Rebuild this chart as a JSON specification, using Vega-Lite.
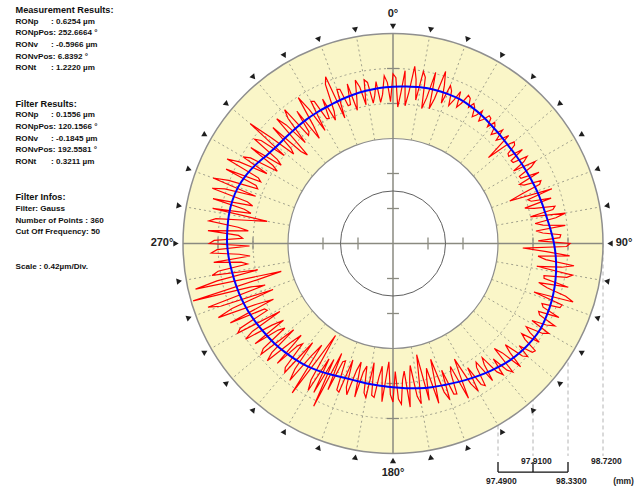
{
  "$schema": "https://vega.github.io/schema/vega-lite/v6.json",
  "width": 640,
  "height": 488,
  "autosize": {"type": "none"},
  "padding": 0,
  "background": "white",
  "config": {"view": {"stroke": null}, "axis": {"disable": true}, "text": {"font": "Liberation Sans"}},
  "datasets": {
    "rings": [{"r": 6, "k": "outer"}, {"r": 3, "k": "inner"}, {"r": 5, "k": "grid"}, {"r": 4, "k": "grid"}, {"r": 1.5, "k": "small"}],
    "deg": [{"a":0},{"a":10},{"a":20},{"a":30},{"a":40},{"a":50},{"a":60},{"a":70},{"a":80},{"a":90},{"a":100},{"a":110},{"a":120},{"a":130},{"a":140},{"a":150},{"a":160},{"a":170},{"a":180},{"a":190},{"a":200},{"a":210},{"a":220},{"a":230},{"a":240},{"a":250},{"a":260},{"a":270},{"a":280},{"a":290},{"a":300},{"a":310},{"a":320},{"a":330},{"a":340},{"a":350}],
    "ticks": [{"d":-5},{"d":-4},{"d":-2},{"d":-1},{"d":1},{"d":2},{"d":4},{"d":5}],
    "anglelabels": [{"a":0,"t":"0°"},{"a":90,"t":"90°"},{"a":180,"t":"180°"},{"a":270,"t":"270°"}],
    "scalebar": [{"r":3,"label":"97.4900","row":1},{"r":4,"label":"97.9100","row":0},{"r":5,"label":"98.3300","row":1},{"r":6,"label":"98.7200","row":0}],
    "info": [
      {"line":0,"kind":"h","t":"Measurement Results:"},
      {"line":1,"kind":"b","t":"RONp","v":": 0.6254 µm"},
      {"line":2,"kind":"b","t":"RONpPos: 252.6664 °"},
      {"line":3,"kind":"b","t":"RONv","v":": -0.5966 µm"},
      {"line":4,"kind":"b","t":"RONvPos: 6.8392 °"},
      {"line":5,"kind":"b","t":"RONt","v":": 1.2220 µm"},
      {"line":8,"kind":"h","t":"Filter Results:"},
      {"line":9,"kind":"b","t":"RONp","v":": 0.1556 µm"},
      {"line":10,"kind":"b","t":"RONpPos: 120.1566 °"},
      {"line":11,"kind":"b","t":"RONv","v":": -0.1845 µm"},
      {"line":12,"kind":"b","t":"RONvPos: 192.5581 °"},
      {"line":13,"kind":"b","t":"RONt","v":": 0.3211 µm"},
      {"line":16,"kind":"h","t":"Filter Infos:"},
      {"line":17,"kind":"b","t":"Filter: Gauss"},
      {"line":18,"kind":"b","t":"Number of Points   : 360"},
      {"line":19,"kind":"b","t":"Cut Off Frequency: 50"},
      {"line":22,"kind":"b","t":"Scale : 0.42µm/Div."}
    ],
    "filtered": [{"a":0,"r":4.48},{"a":5,"r":4.50},{"a":10,"r":4.53},{"a":15,"r":4.55},{"a":20,"r":4.55},{"a":25,"r":4.54},{"a":30,"r":4.50},{"a":35,"r":4.45},{"a":40,"r":4.39},{"a":45,"r":4.35},{"a":50,"r":4.32},{"a":55,"r":4.32},{"a":60,"r":4.33},{"a":65,"r":4.35},{"a":70,"r":4.38},{"a":75,"r":4.41},{"a":80,"r":4.45},{"a":85,"r":4.52},{"a":90,"r":4.60},{"a":95,"r":4.67},{"a":100,"r":4.73},{"a":105,"r":4.78},{"a":110,"r":4.82},{"a":115,"r":4.85},{"a":120,"r":4.87},{"a":125,"r":4.84},{"a":130,"r":4.79},{"a":135,"r":4.72},{"a":140,"r":4.63},{"a":145,"r":4.54},{"a":150,"r":4.45},{"a":155,"r":4.37},{"a":160,"r":4.30},{"a":165,"r":4.25},{"a":170,"r":4.20},{"a":175,"r":4.15},{"a":180,"r":4.11},{"a":185,"r":4.08},{"a":190,"r":4.07},{"a":195,"r":4.06},{"a":200,"r":4.08},{"a":205,"r":4.14},{"a":210,"r":4.21},{"a":215,"r":4.28},{"a":220,"r":4.33},{"a":225,"r":4.38},{"a":230,"r":4.43},{"a":235,"r":4.47},{"a":240,"r":4.52},{"a":245,"r":4.57},{"a":250,"r":4.61},{"a":255,"r":4.64},{"a":260,"r":4.67},{"a":265,"r":4.71},{"a":270,"r":4.74},{"a":275,"r":4.75},{"a":280,"r":4.76},{"a":285,"r":4.75},{"a":290,"r":4.71},{"a":295,"r":4.63},{"a":300,"r":4.52},{"a":305,"r":4.40},{"a":310,"r":4.33},{"a":315,"r":4.31},{"a":320,"r":4.31},{"a":325,"r":4.32},{"a":330,"r":4.33},{"a":335,"r":4.34},{"a":340,"r":4.37},{"a":345,"r":4.40},{"a":350,"r":4.43},{"a":355,"r":4.46}],
    "raw": [
{"a":0,"r":4.85},{"a":1,"r":4.74},{"a":2,"r":3.90},{"a":3,"r":4.32},{"a":4,"r":4.95},{"a":5,"r":3.95},{"a":6,"r":4.35},{"a":7,"r":5.10},{"a":8,"r":4.74},{"a":9,"r":4.15},
{"a":10,"r":4.99},{"a":11,"r":4.84},{"a":12,"r":3.94},{"a":13,"r":4.27},{"a":14,"r":5.04},{"a":15,"r":3.99},{"a":16,"r":4.30},{"a":17,"r":5.14},{"a":18,"r":4.75},{"a":19,"r":4.24},
{"a":20,"r":4.80},{"a":21,"r":4.67},{"a":22,"r":4.25},{"a":23,"r":4.46},{"a":24,"r":4.75},{"a":25,"r":4.30},{"a":26,"r":4.46},{"a":27,"r":4.75},{"a":28,"r":4.70},{"a":29,"r":4.45},
{"a":30,"r":4.62},{"a":31,"r":4.53},{"a":32,"r":4.27},{"a":33,"r":4.38},{"a":34,"r":4.57},{"a":35,"r":4.27},{"a":36,"r":4.38},{"a":37,"r":4.57},{"a":38,"r":4.54},{"a":39,"r":4.29},
{"a":40,"r":4.52},{"a":41,"r":4.44},{"a":42,"r":4.19},{"a":43,"r":4.31},{"a":44,"r":4.51},{"a":45,"r":4.17},{"a":46,"r":4.31},{"a":47,"r":4.52},{"a":48,"r":3.67},{"a":49,"r":4.27},
{"a":50,"r":4.52},{"a":51,"r":4.47},{"a":52,"r":4.17},{"a":53,"r":4.14},{"a":54,"r":4.57},{"a":55,"r":4.12},{"a":56,"r":4.14},{"a":57,"r":4.57},{"a":58,"r":4.41},{"a":59,"r":4.02},
{"a":60,"r":4.69},{"a":61,"r":4.52},{"a":62,"r":4.09},{"a":63,"r":4.10},{"a":64,"r":4.64},{"a":65,"r":3.99},{"a":66,"r":4.10},{"a":67,"r":4.59},{"a":68,"r":4.52},{"a":69,"r":3.94},
{"a":70,"r":3.55},{"a":71,"r":4.80},{"a":72,"r":4.05},{"a":73,"r":4.13},{"a":74,"r":4.70},{"a":75,"r":3.90},{"a":76,"r":4.16},{"a":77,"r":4.75},{"a":78,"r":4.67},{"a":79,"r":4.00},
{"a":80,"r":5.00},{"a":81,"r":4.71},{"a":82,"r":4.10},{"a":83,"r":4.32},{"a":84,"r":4.95},{"a":85,"r":4.10},{"a":86,"r":4.29},{"a":87,"r":4.80},{"a":88,"r":4.77},{"a":89,"r":4.15},
{"a":90,"r":5.06},{"a":91,"r":4.96},{"a":92,"r":3.71},{"a":93,"r":4.39},{"a":94,"r":5.06},{"a":95,"r":4.16},{"a":96,"r":4.39},{"a":97,"r":5.21},{"a":98,"r":4.87},{"a":99,"r":4.16},
{"a":100,"r":5.21},{"a":101,"r":5.06},{"a":102,"r":4.41},{"a":103,"r":4.43},{"a":104,"r":5.16},{"a":105,"r":4.31},{"a":106,"r":4.58},{"a":107,"r":5.16},{"a":108,"r":5.41},{"a":109,"r":4.26},
{"a":110,"r":5.14},{"a":111,"r":5.11},{"a":112,"r":4.59},{"a":113,"r":4.66},{"a":114,"r":5.19},{"a":115,"r":4.59},{"a":116,"r":4.66},{"a":117,"r":5.19},{"a":118,"r":4.96},{"a":119,"r":4.54},
{"a":120,"r":5.14},{"a":121,"r":4.99},{"a":122,"r":4.49},{"a":123,"r":4.66},{"a":124,"r":5.04},{"a":125,"r":4.49},{"a":126,"r":4.66},{"a":127,"r":5.09},{"a":128,"r":5.05},{"a":129,"r":4.64},
{"a":130,"r":5.02},{"a":131,"r":4.90},{"a":132,"r":4.32},{"a":133,"r":4.57},{"a":134,"r":5.07},{"a":135,"r":4.42},{"a":136,"r":4.17},{"a":137,"r":5.02},{"a":138,"r":4.87},{"a":139,"r":4.37},
{"a":140,"r":4.89},{"a":141,"r":4.72},{"a":142,"r":4.14},{"a":143,"r":4.33},{"a":144,"r":4.84},{"a":145,"r":4.14},{"a":146,"r":4.27},{"a":147,"r":4.84},{"a":148,"r":4.75},{"a":149,"r":4.14},
{"a":150,"r":4.87},{"a":151,"r":4.58},{"a":152,"r":3.74},{"a":153,"r":4.19},{"a":154,"r":4.92},{"a":155,"r":3.88},{"a":156,"r":4.07},{"a":157,"r":4.67},{"a":158,"r":4.64},{"a":159,"r":3.88},
{"a":160,"r":4.75},{"a":161,"r":4.49},{"a":162,"r":3.48},{"a":163,"r":4.04},{"a":164,"r":4.75},{"a":165,"r":3.69},{"a":166,"r":3.98},{"a":167,"r":4.60},{"a":168,"r":3.25},{"a":169,"r":3.85},
{"a":170,"r":4.65},{"a":171,"r":4.42},{"a":172,"r":3.52},{"a":173,"r":3.91},{"a":174,"r":4.70},{"a":175,"r":3.66},{"a":176,"r":3.91},{"a":177,"r":4.60},{"a":178,"r":4.45},{"a":179,"r":3.66},
{"a":180,"r":4.53},{"a":181,"r":4.32},{"a":182,"r":3.38},{"a":183,"r":3.87},{"a":184,"r":4.53},{"a":185,"r":3.52},{"a":186,"r":3.84},{"a":187,"r":4.43},{"a":188,"r":4.38},{"a":189,"r":3.45},
{"a":190,"r":4.47},{"a":191,"r":4.34},{"a":192,"r":3.58},{"a":193,"r":3.77},{"a":194,"r":4.52},{"a":195,"r":3.51},{"a":196,"r":3.77},{"a":197,"r":4.52},{"a":198,"r":4.31},{"a":199,"r":3.52},
{"a":200,"r":4.52},{"a":201,"r":4.48},{"a":202,"r":3.62},{"a":203,"r":3.67},{"a":204,"r":4.57},{"a":205,"r":3.47},{"a":206,"r":5.17},{"a":207,"r":3.72},{"a":208,"r":4.82},{"a":209,"r":3.77},
{"a":210,"r":4.85},{"a":211,"r":4.55},{"a":212,"r":3.10},{"a":213,"r":3.95},{"a":214,"r":5.15},{"a":215,"r":3.55},{"a":216,"r":3.98},{"a":217,"r":4.90},{"a":218,"r":4.55},{"a":219,"r":3.65},
{"a":220,"r":4.81},{"a":221,"r":4.69},{"a":222,"r":3.86},{"a":223,"r":4.00},{"a":224,"r":4.76},{"a":225,"r":3.71},{"a":226,"r":4.09},{"a":227,"r":4.91},{"a":228,"r":4.66},{"a":229,"r":3.76},
{"a":230,"r":4.92},{"a":231,"r":4.77},{"a":232,"r":3.92},{"a":233,"r":4.11},{"a":234,"r":4.87},{"a":235,"r":3.82},{"a":236,"r":4.17},{"a":237,"r":5.02},{"a":238,"r":4.74},{"a":239,"r":3.77},
{"a":240,"r":5.12},{"a":241,"r":4.99},{"a":242,"r":4.07},{"a":243,"r":4.12},{"a":244,"r":5.17},{"a":245,"r":3.77},{"a":246,"r":4.27},{"a":247,"r":5.42},{"a":248,"r":4.96},{"a":249,"r":3.67},
{"a":250,"r":5.24},{"a":251,"r":5.59},{"a":252,"r":3.84},{"a":253,"r":4.24},{"a":254,"r":5.94},{"a":255,"r":4.04},{"a":256,"r":3.29},{"a":257,"r":5.79},{"a":258,"r":5.14},{"a":259,"r":3.94},
{"a":260,"r":5.25},{"a":261,"r":5.06},{"a":262,"r":4.20},{"a":263,"r":4.37},{"a":264,"r":5.15},{"a":265,"r":4.10},{"a":266,"r":4.40},{"a":267,"r":5.20},{"a":268,"r":5.03},{"a":269,"r":4.10},
{"a":270,"r":5.25},{"a":271,"r":5.11},{"a":272,"r":4.30},{"a":273,"r":4.42},{"a":274,"r":5.30},{"a":275,"r":4.15},{"a":276,"r":4.45},{"a":277,"r":5.30},{"a":278,"r":5.11},{"a":279,"r":4.25},
{"a":280,"r":3.65},{"a":281,"r":5.25},{"a":282,"r":4.15},{"a":283,"r":4.36},{"a":284,"r":5.30},{"a":285,"r":4.15},{"a":286,"r":4.33},{"a":287,"r":5.40},{"a":288,"r":5.05},{"a":289,"r":4.15},
{"a":290,"r":5.47},{"a":291,"r":5.03},{"a":292,"r":4.17},{"a":293,"r":4.25},{"a":294,"r":5.22},{"a":295,"r":4.17},{"a":296,"r":4.28},{"a":297,"r":5.32},{"a":298,"r":4.97},{"a":299,"r":4.12},
{"a":300,"r":4.95},{"a":301,"r":4.75},{"a":302,"r":3.90},{"a":303,"r":4.09},{"a":304,"r":4.90},{"a":305,"r":3.90},{"a":306,"r":4.09},{"a":307,"r":4.95},{"a":308,"r":4.78},{"a":309,"r":4.00},
{"a":310,"r":5.32},{"a":311,"r":4.62},{"a":312,"r":3.82},{"a":313,"r":3.99},{"a":314,"r":4.77},{"a":315,"r":3.72},{"a":316,"r":3.52},{"a":317,"r":4.87},{"a":318,"r":4.56},{"a":319,"r":3.82},
{"a":320,"r":4.67},{"a":321,"r":4.92},{"a":322,"r":3.92},{"a":323,"r":3.99},{"a":324,"r":4.67},{"a":325,"r":3.67},{"a":326,"r":4.08},{"a":327,"r":4.97},{"a":328,"r":4.50},{"a":329,"r":3.77},
{"a":330,"r":4.69},{"a":331,"r":4.64},{"a":332,"r":4.04},{"a":333,"r":4.01},{"a":334,"r":4.59},{"a":335,"r":3.89},{"a":336,"r":4.13},{"a":337,"r":4.94},{"a":338,"r":5.14},{"a":339,"r":3.84},
{"a":340,"r":4.69},{"a":341,"r":4.66},{"a":342,"r":4.14},{"a":343,"r":4.15},{"a":344,"r":4.74},{"a":345,"r":3.94},{"a":346,"r":4.27},{"a":347,"r":4.79},{"a":348,"r":4.57},{"a":349,"r":4.04},
{"a":350,"r":4.75},{"a":351,"r":4.66},{"a":352,"r":4.05},{"a":353,"r":4.27},{"a":354,"r":4.65},{"a":355,"r":4.05},{"a":356,"r":4.27},{"a":357,"r":4.80},{"a":358,"r":4.60},{"a":359,"r":4.05}
    ]
  },
  "layer": [
    {
      "layer": [
        {
          "data": {"name": "scalebar"},
          "mark": {"type": "rule", "stroke": "#b4b4b4", "strokeDash": [4, 3], "strokeWidth": 1},
          "encoding": {
            "x": {"field": "r", "type": "quantitative", "scale": {"domain": [-11.2286, 7.0571], "nice": false, "zero": false}},
            "y": {"datum": 0, "type": "quantitative", "scale": {"domain": [-6.9857, 6.9571], "nice": false, "zero": false}},
            "y2": {"datum": -6.07}
          }
        },
        {
          "data": {"name": "rings"},
          "transform": [{"filter": "datum.k == 'outer'"}],
          "mark": {"type": "arc", "theta": 0, "theta2": 6.2832, "fill": "#FAF6C8", "stroke": "#8f8f8f", "strokeWidth": 1.5},
          "encoding": {
            "x": {"datum": 0, "type": "quantitative"},
            "y": {"datum": 0, "type": "quantitative"},
            "radius": {"field": "r", "type": "quantitative", "stack": null, "scale": {"type": "linear", "domain": [0, 6], "range": [0, 210], "zero": true, "nice": false}}
          }
        },
        {
          "data": {"name": "rings"},
          "transform": [{"filter": "datum.k == 'inner'"}],
          "mark": {"type": "arc", "theta": 0, "theta2": 6.2832, "fill": "#ffffff", "stroke": "#8c8c8c", "strokeWidth": 1.2},
          "encoding": {
            "x": {"datum": 0, "type": "quantitative"},
            "y": {"datum": 0, "type": "quantitative"},
            "radius": {"field": "r", "type": "quantitative", "stack": null, "scale": {"type": "linear", "domain": [0, 6], "range": [0, 210], "zero": true, "nice": false}}
          }
        },
        {
          "data": {"name": "rings"},
          "transform": [{"filter": "datum.k == 'grid' && datum.r == 4"}],
          "mark": {"type": "arc", "theta": 0, "theta2": 6.2832, "filled": false, "stroke": "#a0a08c", "strokeWidth": 1, "strokeDash": [2, 3]},
          "encoding": {
            "x": {"datum": 0, "type": "quantitative"},
            "y": {"datum": 0, "type": "quantitative"},
            "radius": {"field": "r", "type": "quantitative", "stack": null, "scale": {"type": "linear", "domain": [0, 6], "range": [0, 210], "zero": true, "nice": false}}
          }
        },
        {
          "data": {"name": "rings"},
          "transform": [{"filter": "datum.k == 'grid' && datum.r == 5"}],
          "mark": {"type": "arc", "theta": 0, "theta2": 6.2832, "filled": false, "stroke": "#a0a08c", "strokeWidth": 1, "strokeDash": [2, 3]},
          "encoding": {
            "x": {"datum": 0, "type": "quantitative"},
            "y": {"datum": 0, "type": "quantitative"},
            "radius": {"field": "r", "type": "quantitative", "stack": null, "scale": {"type": "linear", "domain": [0, 6], "range": [0, 210], "zero": true, "nice": false}}
          }
        },
        {
          "data": {"name": "deg"},
          "transform": [
            {"filter": "datum.a % 90 != 0"},
            {"calculate": "3*sin(datum.a*PI/180)", "as": "x1"},
            {"calculate": "3*cos(datum.a*PI/180)", "as": "y1"},
            {"calculate": "6*sin(datum.a*PI/180)", "as": "x2"},
            {"calculate": "6*cos(datum.a*PI/180)", "as": "y2"}
          ],
          "mark": {"type": "rule", "stroke": "#a0a08c", "strokeWidth": 1, "strokeDash": [2, 3]},
          "encoding": {
            "x": {"field": "x1", "type": "quantitative"},
            "y": {"field": "y1", "type": "quantitative"},
            "x2": {"field": "x2"},
            "y2": {"field": "y2"}
          }
        },
        {
          "data": {"name": "deg"},
          "transform": [
            {"filter": "datum.a == 0 || datum.a == 90"},
            {"calculate": "-6*sin(datum.a*PI/180)", "as": "x1"},
            {"calculate": "-6*cos(datum.a*PI/180)", "as": "y1"},
            {"calculate": "6*sin(datum.a*PI/180)", "as": "x2"},
            {"calculate": "6*cos(datum.a*PI/180)", "as": "y2"}
          ],
          "mark": {"type": "rule", "stroke": "#8a8a80", "strokeWidth": 1.5},
          "encoding": {
            "x": {"field": "x1", "type": "quantitative"},
            "y": {"field": "y1", "type": "quantitative"},
            "x2": {"field": "x2"},
            "y2": {"field": "y2"}
          }
        },
        {
          "data": {"name": "ticks"},
          "mark": {"type": "rule", "stroke": "#8a8a80", "strokeWidth": 1.3},
          "encoding": {
            "x": {"field": "d", "type": "quantitative"},
            "y": {"datum": -0.17, "type": "quantitative"},
            "y2": {"datum": 0.17}
          }
        },
        {
          "data": {"name": "ticks"},
          "mark": {"type": "rule", "stroke": "#8a8a80", "strokeWidth": 1.3},
          "encoding": {
            "y": {"field": "d", "type": "quantitative"},
            "x": {"datum": -0.17, "type": "quantitative"},
            "x2": {"datum": 0.17}
          }
        },
        {
          "data": {"name": "rings"},
          "transform": [{"filter": "datum.k == 'small'"}],
          "mark": {"type": "arc", "theta": 0, "theta2": 6.2832, "filled": false, "stroke": "#606060", "strokeWidth": 1},
          "encoding": {
            "x": {"datum": 0, "type": "quantitative"},
            "y": {"datum": 0, "type": "quantitative"},
            "radius": {"field": "r", "type": "quantitative", "stack": null, "scale": {"type": "linear", "domain": [0, 6], "range": [0, 210], "zero": true, "nice": false}}
          }
        },
        {
          "data": {"name": "deg"},
          "transform": [
            {"calculate": "6.2*sin(datum.a*PI/180)", "as": "x"},
            {"calculate": "6.2*cos(datum.a*PI/180)", "as": "y"}
          ],
          "mark": {"type": "point", "shape": "triangle-down", "filled": true, "size": 38, "color": "#1e1e1e", "opacity": 1},
          "encoding": {
            "x": {"field": "x", "type": "quantitative"},
            "y": {"field": "y", "type": "quantitative"},
            "angle": {"field": "a", "type": "quantitative", "scale": null}
          }
        },
        {
          "data": {"name": "raw"},
          "transform": [
            {"calculate": "datum.r*sin(datum.a*PI/180)", "as": "x"},
            {"calculate": "datum.r*cos(datum.a*PI/180)", "as": "y"}
          ],
          "mark": {"type": "line", "interpolate": "linear-closed", "stroke": "#ff0000", "strokeWidth": 1.2},
          "encoding": {
            "x": {"field": "x", "type": "quantitative"},
            "y": {"field": "y", "type": "quantitative"},
            "order": {"field": "a", "type": "quantitative"}
          }
        },
        {
          "data": {"name": "filtered"},
          "transform": [
            {"calculate": "datum.r*sin(datum.a*PI/180)", "as": "x"},
            {"calculate": "datum.r*cos(datum.a*PI/180)", "as": "y"}
          ],
          "mark": {"type": "line", "interpolate": "cardinal-closed", "stroke": "#0000ff", "strokeWidth": 2},
          "encoding": {
            "x": {"field": "x", "type": "quantitative"},
            "y": {"field": "y", "type": "quantitative"},
            "order": {"field": "a", "type": "quantitative"}
          }
        },
        {
          "data": {"name": "anglelabels"},
          "transform": [
            {"calculate": "6.6*sin(datum.a*PI/180)", "as": "x"},
            {"calculate": "6.55*cos(datum.a*PI/180)", "as": "y"}
          ],
          "mark": {"type": "text", "font": "Liberation Sans", "fontWeight": "bold", "fontSize": 11, "align": "center", "baseline": "middle", "color": "#222222"},
          "encoding": {
            "x": {"field": "x", "type": "quantitative"},
            "y": {"field": "y", "type": "quantitative"},
            "text": {"field": "t"}
          }
        },
        {
          "data": {"name": "scalebar"},
          "transform": [{"filter": "datum.r <= 5"}],
          "mark": {"type": "rule", "stroke": "#111111", "strokeWidth": 1.3},
          "encoding": {
            "x": {"field": "r", "type": "quantitative"},
            "y": {"datum": -6.24, "type": "quantitative"},
            "y2": {"datum": -6.53}
          }
        },
        {
          "data": {"name": "scalebar"},
          "transform": [{"aggregate": [{"op": "min", "field": "r", "as": "r0"}]}],
          "mark": {"type": "rule", "stroke": "#111111", "strokeWidth": 1.3},
          "encoding": {
            "x": {"field": "r0", "type": "quantitative"},
            "x2": {"datum": 5},
            "y": {"datum": -6.53, "type": "quantitative"}
          }
        },
        {
          "data": {"name": "scalebar"},
          "transform": [{"calculate": "datum.row == 0 ? -6.214 : -6.786", "as": "ly"}],
          "mark": {"type": "text", "font": "Liberation Sans", "fontWeight": "bold", "fontSize": 8.5, "align": "left", "baseline": "middle", "dx": -12, "color": "#222222"},
          "encoding": {
            "x": {"field": "r", "type": "quantitative"},
            "y": {"field": "ly", "type": "quantitative"},
            "text": {"field": "label"}
          }
        },
        {
          "data": {"values": [{"u": "(mm)"}]},
          "mark": {"type": "text", "font": "Liberation Sans", "fontWeight": "bold", "fontSize": 8.5, "align": "left", "baseline": "middle", "color": "#222222"},
          "encoding": {
            "x": {"datum": 6.29, "type": "quantitative"},
            "y": {"datum": -6.786, "type": "quantitative"},
            "text": {"field": "u"}
          }
        }
      ]
    },
    {
      "data": {"name": "info"},
      "layer": [
        {
          "transform": [{"filter": "datum.kind == 'h'"}],
          "mark": {"type": "text", "font": "Liberation Sans", "fontWeight": "bold", "fontSize": 9.2, "align": "left", "baseline": "middle", "color": "#111111"},
          "encoding": {
            "x": {"datum": -10.786, "type": "quantitative"},
            "y": {"field": "line", "type": "quantitative", "scale": {"domain": [-0.8547, 40.855], "reverse": true, "nice": false, "zero": false}},
            "text": {"field": "t"}
          }
        },
        {
          "transform": [{"filter": "datum.kind == 'b'"}],
          "mark": {"type": "text", "font": "Liberation Sans", "fontWeight": "bold", "fontSize": 8.1, "align": "left", "baseline": "middle", "color": "#111111"},
          "encoding": {
            "x": {"datum": -10.786, "type": "quantitative"},
            "y": {"field": "line", "type": "quantitative"},
            "text": {"field": "t"}
          }
        },
        {
          "transform": [{"filter": "isValid(datum.v)"}],
          "mark": {"type": "text", "font": "Liberation Sans", "fontWeight": "bold", "fontSize": 8.1, "align": "left", "baseline": "middle", "color": "#111111"},
          "encoding": {
            "x": {"datum": -9.77, "type": "quantitative"},
            "y": {"field": "line", "type": "quantitative"},
            "text": {"field": "v"}
          }
        }
      ]
    }
  ],
  "resolve": {"scale": {"y": "independent"}}
}
